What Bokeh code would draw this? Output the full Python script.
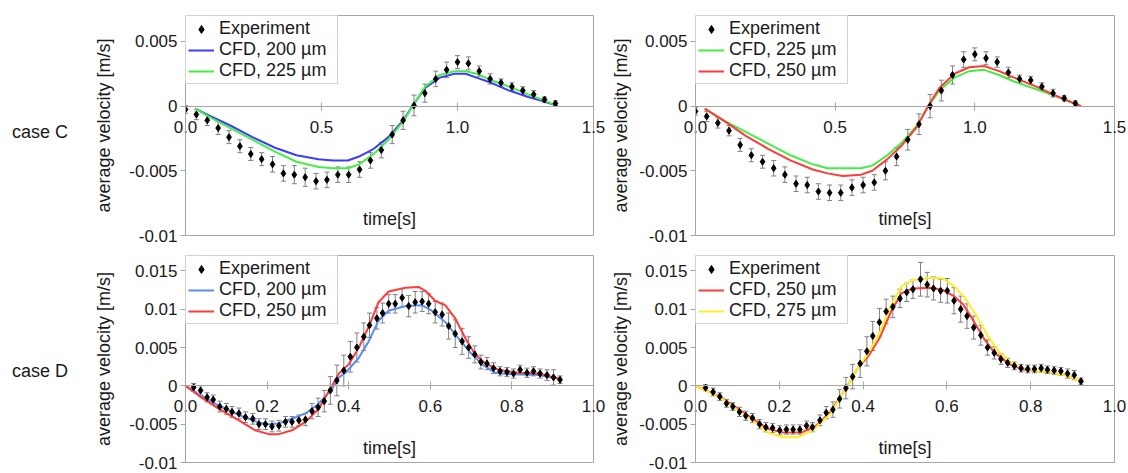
from bokeh.plotting import figure
from bokeh.models import (Range1d, FixedTicker, CustomJSTickFormatter, LinearAxis, Div,
                          Legend, LegendItem, Label, Whisker, ColumnDataSource, TeeHead)
from bokeh.layouts import column, row
from bokeh.embed import file_html
from bokeh.resources import INLINE

FONT = "Liberation Sans"
GRAY = "#a6a6a6"
ERRC = "#808080"
TXT = "#1a1a1a"
BLUE_C = "#3c3cff"
GREEN = "#44ee44"
RED = "#ff3b3b"
BLUE_D = "#5b8cf0"
YELLOW = "#ffee22"

# ---------------- case C, left panel ----------------
cl_t = [0.00, 0.04, 0.08, 0.12, 0.16, 0.20, 0.24, 0.28, 0.32, 0.36, 0.40, 0.44,
        0.48, 0.52, 0.56, 0.60, 0.64, 0.68, 0.72, 0.76, 0.80, 0.84, 0.88, 0.92,
        0.96, 1.00, 1.04, 1.08, 1.12, 1.16, 1.20, 1.24, 1.28, 1.32, 1.36]
cl_exp = [-0.00026, -0.00065, -0.0011, -0.0017, -0.0024, -0.0031, -0.0037, -0.0041,
          -0.0045, -0.0052, -0.0053, -0.0055, -0.0058, -0.0057, -0.0053, -0.0053,
          -0.0049, -0.0042, -0.0034, -0.0022, -0.0011, 0.00005, 0.0010, 0.0021,
          0.0028, 0.0034, 0.0033, 0.0027, 0.0021, 0.0018, 0.0015, 0.0012, 0.0009,
          0.0005, 0.0002]
cl_err = [0.0003, 0.0004, 0.0004, 0.0005, 0.0005, 0.0005, 0.0005, 0.0005, 0.0006,
          0.0006, 0.0007, 0.0007, 0.0006, 0.0006, 0.0006, 0.0006, 0.0006, 0.0006,
          0.0006, 0.0007, 0.0007, 0.0008, 0.0007, 0.0006, 0.0006, 0.0005, 0.0005,
          0.0004, 0.0004, 0.0003, 0.0003, 0.0003, 0.0003, 0.0002, 0.0002]
cl_cfd_t = [0.036, 0.084, 0.165, 0.246, 0.327, 0.408, 0.489, 0.543, 0.597, 0.638,
            0.692, 0.746, 0.800, 0.841, 0.881, 0.935, 0.989, 1.030, 1.070, 1.124,
            1.190, 1.260, 1.310, 1.370]
cl_cfd200 = [-0.0002, -0.0007, -0.0015, -0.0024, -0.0032, -0.0038, -0.0041, -0.0042,
             -0.0042, -0.0039, -0.0033, -0.0024, -0.0011, 0.0002, 0.0014, 0.0022,
             0.0025, 0.0025, 0.0022, 0.0018, 0.0012, 0.0007, 0.0004, 0.0000]
cl_cfd225 = [-0.0002, -0.0008, -0.0017, -0.0026, -0.0035, -0.0043, -0.0047, -0.0048,
             -0.0048, -0.0045, -0.0037, -0.0026, -0.0012, 0.0002, 0.0015, 0.0024,
             0.0027, 0.0027, 0.0025, 0.0020, 0.0015, 0.0009, 0.0005, 0.0000]

# ---------------- case C, right panel ----------------
cr_t = cl_t
cr_exp = [-0.0004, -0.0008, -0.0013, -0.0019, -0.0030, -0.0038, -0.0043, -0.0048,
          -0.0053, -0.0060, -0.0061, -0.0066, -0.0067, -0.0067, -0.0063, -0.0061,
          -0.0059, -0.0050, -0.0039, -0.0026, -0.0014, 0.0000, 0.0012, 0.0024,
          0.0036, 0.0040, 0.0037, 0.0034, 0.0026, 0.0021, 0.0020, 0.0015, 0.0010,
          0.0006, 0.0002]
cr_err = [0.0003, 0.0004, 0.0004, 0.0004, 0.0005, 0.0005, 0.0005, 0.0006, 0.0006,
          0.0006, 0.0006, 0.0006, 0.0006, 0.0006, 0.0006, 0.0006, 0.0006, 0.0007,
          0.0007, 0.0008, 0.0008, 0.0009, 0.0008, 0.0007, 0.0006, 0.0005, 0.0005,
          0.0004, 0.0004, 0.0003, 0.0003, 0.0003, 0.0003, 0.0002, 0.0002]
cr_cfd_t = [0.033, 0.100, 0.180, 0.260, 0.340, 0.420, 0.473, 0.527, 0.593, 0.633,
            0.687, 0.740, 0.793, 0.833, 0.873, 0.927, 0.980, 1.033, 1.087, 1.140,
            1.220, 1.300, 1.380]
cr_cfd225 = [-0.0002, -0.0011, -0.0020, -0.0029, -0.0038, -0.0045, -0.0048, -0.0048,
             -0.0048, -0.0046, -0.0038, -0.0028, -0.0015, 0.0000, 0.0012, 0.0022,
             0.0027, 0.0028, 0.0024, 0.0019, 0.0013, 0.0007, 0.0000]
cr_cfd250 = [-0.0002, -0.0011, -0.0023, -0.0033, -0.0042, -0.0049, -0.0052, -0.0054,
             -0.0053, -0.0050, -0.0041, -0.0030, -0.0016, 0.0000, 0.0014, 0.0025,
             0.0030, 0.0031, 0.0027, 0.0022, 0.0015, 0.0007, 0.0000]

# ---------------- case D, left panel ----------------
dl_t = [0.020, 0.037, 0.053, 0.068, 0.084, 0.100, 0.114, 0.131, 0.147, 0.165,
        0.180, 0.196, 0.212, 0.229, 0.245, 0.261, 0.278, 0.294, 0.310, 0.325,
        0.340, 0.355, 0.371, 0.388, 0.404, 0.420, 0.437, 0.451, 0.469, 0.483,
        0.498, 0.514, 0.531, 0.547, 0.563, 0.580, 0.596, 0.612, 0.629, 0.645,
        0.661, 0.678, 0.694, 0.709, 0.724, 0.739, 0.755, 0.771, 0.788, 0.804,
        0.820, 0.837, 0.853, 0.869, 0.886, 0.902, 0.918]
dl_exp = [-0.0002, -0.0006, -0.0015, -0.0018, -0.0027, -0.0030, -0.0034, -0.0036,
          -0.0041, -0.0043, -0.0050, -0.0050, -0.0053, -0.0052, -0.0047, -0.0047,
          -0.0045, -0.0044, -0.0033, -0.0028, -0.0020, -0.0006, 0.0007, 0.0020,
          0.0038, 0.0050, 0.0064, 0.0079, 0.0088, 0.0095, 0.0107, 0.0107, 0.0115,
          0.0104, 0.0109, 0.0110, 0.0107, 0.0096, 0.0093, 0.0078, 0.0068, 0.0058,
          0.0050, 0.0041, 0.0031, 0.0029, 0.0023, 0.0019, 0.0018, 0.0016, 0.0021,
          0.0017, 0.0019, 0.0016, 0.0014, 0.0011, 0.0008]
dl_err = [0.0005, 0.0006, 0.0006, 0.0006, 0.0007, 0.0007, 0.0007, 0.0007, 0.0007,
          0.0007, 0.0007, 0.0007, 0.0007, 0.0007, 0.0007, 0.0007, 0.0007, 0.0008,
          0.0010, 0.0012, 0.0014, 0.0018, 0.0020, 0.0020, 0.0020, 0.0019, 0.0018,
          0.0016, 0.0014, 0.0013, 0.0012, 0.0012, 0.0012, 0.0014, 0.0014, 0.0013,
          0.0013, 0.0014, 0.0015, 0.0017, 0.0018, 0.0017, 0.0014, 0.0011, 0.0009,
          0.0008, 0.0007, 0.0006, 0.0006, 0.0006, 0.0006, 0.0006, 0.0006, 0.0006,
          0.0007, 0.0010, 0.0005]
dl_c200_t = [0.000, 0.033, 0.082, 0.131, 0.180, 0.204, 0.229, 0.261, 0.294, 0.327,
             0.359, 0.376, 0.392, 0.424, 0.449, 0.473, 0.498, 0.539, 0.580, 0.604,
             0.637, 0.669, 0.702, 0.727, 0.759, 0.800, 0.865, 0.918]
dl_c200 = [0.0000, -0.0011, -0.0026, -0.0038, -0.0048, -0.0050, -0.0049, -0.0043,
           -0.0036, -0.0023, -0.0004, 0.0011, 0.0017, 0.0036, 0.0058, 0.0085,
           0.0098, 0.0104, 0.0105, 0.0098, 0.0083, 0.0062, 0.0041, 0.0028, 0.0017,
           0.0015, 0.0014, 0.0009]
dl_c250_t = [0.000, 0.033, 0.082, 0.131, 0.171, 0.204, 0.229, 0.261, 0.294, 0.327,
             0.359, 0.376, 0.400, 0.424, 0.449, 0.473, 0.498, 0.539, 0.571, 0.588,
             0.612, 0.637, 0.661, 0.686, 0.710, 0.735, 0.767, 0.816, 0.865, 0.918]
dl_c250 = [0.0000, -0.0013, -0.0030, -0.0045, -0.0058, -0.0063, -0.0063, -0.0058,
           -0.0047, -0.0030, 0.0000, 0.0016, 0.0028, 0.0049, 0.0077, 0.0109, 0.0123,
           0.0128, 0.0129, 0.0124, 0.0111, 0.0105, 0.0088, 0.0062, 0.0041, 0.0029,
           0.0021, 0.0017, 0.0016, 0.0009]

# ---------------- case D, right panel ----------------
dr_t = [0.024, 0.042, 0.058, 0.074, 0.089, 0.105, 0.120, 0.136, 0.153, 0.168,
        0.184, 0.201, 0.217, 0.233, 0.249, 0.265, 0.279, 0.297, 0.312, 0.328,
        0.344, 0.359, 0.375, 0.393, 0.409, 0.423, 0.439, 0.455, 0.471, 0.488,
        0.504, 0.519, 0.537, 0.553, 0.568, 0.585, 0.601, 0.617, 0.633, 0.648,
        0.664, 0.681, 0.697, 0.713, 0.729, 0.745, 0.761, 0.777, 0.793, 0.809,
        0.825, 0.840, 0.856, 0.872, 0.888, 0.904, 0.920]
dr_exp = [-0.00025, -0.0008, -0.0014, -0.0023, -0.0027, -0.0034, -0.0039, -0.0042,
          -0.0050, -0.0054, -0.0055, -0.0058, -0.0057, -0.0057, -0.0057, -0.0052,
          -0.0054, -0.0045, -0.0035, -0.0031, -0.0017, -0.0003, 0.0012, 0.0029,
          0.0045, 0.0065, 0.0083, 0.0097, 0.0103, 0.0114, 0.0122, 0.0126, 0.0139,
          0.0132, 0.0127, 0.0124, 0.0124, 0.0111, 0.0100, 0.0091, 0.0076, 0.0066,
          0.0050, 0.0043, 0.0035, 0.0030, 0.0026, 0.0023, 0.0022, 0.0022, 0.0023,
          0.0021, 0.0020, 0.0019, 0.0016, 0.0014, 0.0006]
dr_err = [0.0004, 0.0005, 0.0005, 0.0005, 0.0005, 0.0006, 0.0006, 0.0006, 0.0006,
          0.0006, 0.0006, 0.0006, 0.0006, 0.0006, 0.0006, 0.0006, 0.0006, 0.0007,
          0.0008, 0.0010, 0.0012, 0.0014, 0.0016, 0.0018, 0.0019, 0.0019, 0.0018,
          0.0016, 0.0014, 0.0012, 0.0012, 0.0012, 0.0022, 0.0016, 0.0015, 0.0015,
          0.0016, 0.0017, 0.0017, 0.0016, 0.0015, 0.0013, 0.0010, 0.0008, 0.0007,
          0.0006, 0.0005, 0.0005, 0.0005, 0.0005, 0.0005, 0.0005, 0.0005, 0.0005,
          0.0006, 0.0006, 0.0004]
dr_c250_t = [0.000, 0.058, 0.120, 0.173, 0.209, 0.253, 0.288, 0.324, 0.359, 0.386,
             0.413, 0.439, 0.466, 0.492, 0.519, 0.563, 0.590, 0.617, 0.639, 0.661,
             0.688, 0.714, 0.750, 0.785, 0.838, 0.883, 0.920]
dr_c250 = [0.0000, -0.0014, -0.0037, -0.0056, -0.0061, -0.0061, -0.0052, -0.0033,
           -0.0003, 0.0022, 0.0039, 0.0062, 0.0096, 0.0121, 0.0127, 0.0128, 0.0125,
           0.0117, 0.0106, 0.0087, 0.0062, 0.0043, 0.0028, 0.0021, 0.0018, 0.0014,
           0.0006]
dr_c275_t = [0.000, 0.058, 0.120, 0.173, 0.209, 0.244, 0.280, 0.324, 0.359, 0.386,
             0.413, 0.439, 0.466, 0.492, 0.519, 0.563, 0.590, 0.617, 0.643, 0.670,
             0.697, 0.723, 0.759, 0.794, 0.838, 0.883, 0.920]
dr_c275 = [0.0000, -0.0015, -0.0039, -0.0061, -0.0067, -0.0067, -0.0058, -0.0035,
           -0.0003, 0.0022, 0.0043, 0.0068, 0.0104, 0.0130, 0.0138, 0.0141, 0.0140,
           0.0130, 0.0115, 0.0092, 0.0066, 0.0045, 0.0028, 0.0021, 0.0018, 0.0014,
           0.0006]

top_x_ticks = [0.0, 0.5, 1.0, 1.5]
bot_x_ticks = [0.0, 0.2, 0.4, 0.6, 0.8, 1.0]
top_y_ticks = [-0.01, -0.005, 0.0, 0.005]
bot_y_ticks = [-0.01, -0.005, 0.0, 0.005, 0.01, 0.015]
case_labels = ["case C", "case D"]

YFMT = "return String(Number(tick.toFixed(4)));"
XFMT = "return tick.toFixed(1);"


def panel(width, height, mb, xr, yr, xticks, yticks, exp_t, exp_v, exp_e,
          lines, time_y, ylab_standoff):
    p = figure(width=width, height=height, output_backend="svg", toolbar_location=None,
               x_range=Range1d(*xr), y_range=Range1d(*yr),
               min_border_left=mb[0], min_border_right=mb[1],
               min_border_top=mb[2], min_border_bottom=mb[3])
    p.background_fill_color = "white"
    p.border_fill_color = "white"
    p.outline_line_color = GRAY
    p.xgrid.visible = False
    p.ygrid.visible = False

    ya = p.yaxis[0]
    ya.ticker = FixedTicker(ticks=yticks)
    ya.formatter = CustomJSTickFormatter(code=YFMT)
    ya.minor_tick_line_color = None
    ya.major_tick_in = 0
    ya.major_tick_out = 5
    ya.major_tick_line_color = GRAY
    ya.axis_line_color = GRAY
    ya.major_label_standoff = 3
    ya.major_label_text_font = FONT
    ya.major_label_text_font_size = "17px"
    ya.major_label_text_color = TXT
    ya.axis_label = "average velocity [m/s]"
    ya.axis_label_text_font = FONT
    ya.axis_label_text_font_size = "18px"
    ya.axis_label_text_font_style = "normal"
    ya.axis_label_text_color = TXT
    ya.axis_label_standoff = ylab_standoff

    # frame geometry -> distance of the zero line above the frame bottom
    frame_h = height - mb[2] - mb[3]
    zero_up = frame_h * (0 - yr[0]) / (yr[1] - yr[0])

    # tick labels: ordinary bottom axis, labels pulled up to sit under the zero line
    xa = p.xaxis[0]
    xa.ticker = FixedTicker(ticks=xticks)
    xa.formatter = CustomJSTickFormatter(code=XFMT)
    xa.minor_tick_line_color = None
    xa.major_tick_line_color = None
    xa.major_tick_in = 0
    xa.major_tick_out = 0
    xa.axis_line_color = None
    xa.major_label_standoff = -int(round(zero_up - 14))
    xa.major_label_text_font = FONT
    xa.major_label_text_font_size = "17px"
    xa.major_label_text_color = TXT

    # zero line with crossing ticks
    za = LinearAxis(fixed_location=0, ticker=FixedTicker(ticks=xticks),
                    formatter=CustomJSTickFormatter(code="return '';"),
                    axis_line_color=GRAY, major_tick_line_color=GRAY,
                    minor_tick_line_color=None, major_tick_in=4, major_tick_out=4,
                    major_label_text_font_size="1px")
    p.add_layout(za, "below")

    line_rs = []
    for (lt, lv, col, lab) in lines:
        r = p.line(lt, lv, line_color=col, line_width=2)
        line_rs.append((lab, r))

    src = ColumnDataSource(dict(t=exp_t, v=exp_v,
                                lo=[a - b for a, b in zip(exp_v, exp_e)],
                                hi=[a + b for a, b in zip(exp_v, exp_e)]))
    wh = Whisker(source=src, base="t", lower="lo", upper="hi", dimension="height",
                 line_color=ERRC, line_width=1,
                 upper_head=TeeHead(size=5, line_color=ERRC, line_width=1),
                 lower_head=TeeHead(size=5, line_color=ERRC, line_width=1))
    p.add_layout(wh)
    pts = p.scatter("t", "v", source=src, marker="diamond", size=7,
                    fill_color="black", line_color="black")

    items = [LegendItem(label="Experiment", renderers=[pts])]
    for lab, r in line_rs:
        items.append(LegendItem(label=lab, renderers=[r]))
    leg = Legend(items=items, location="top_left", margin=0, padding=2, spacing=0,
                 label_text_font=FONT, label_text_font_size="18px",
                 label_text_color=TXT, glyph_width=26, glyph_height=20,
                 label_height=20, label_width=116, label_standoff=5,
                 border_line_color=GRAY, background_fill_color="white",
                 background_fill_alpha=1.0)
    p.add_layout(leg)

    p.add_layout(Label(x=(xr[0] + xr[1]) / 2, y=time_y, text="time[s]",
                       text_align="center", text_baseline="middle",
                       text_font=FONT, text_font_size="18px", text_color=TXT))
    return p


def case_div(text, height, top):
    html = ('<div style="position:relative; top:%dpx; left:12px; white-space:nowrap; '
            'font-family:\'Liberation Sans\'; font-size:18px; line-height:21px; '
            'color:%s">%s</div>' % (top, TXT, text))
    return Div(text=html, width=70, height=height, margin=0)


TOP_H, BOT_H = 245, 228
p1 = panel(536, TOP_H, (115, 13, 15, 10), (0, 1.5), (-0.01, 0.007), top_x_ticks, top_y_ticks,
           cl_t, cl_exp, cl_err,
           [(cl_cfd_t, cl_cfd200, BLUE_C, "CFD, 200 µm"),
            (cl_cfd_t, cl_cfd225, GREEN, "CFD, 225 µm")], -0.0087, 12)
p2 = panel(520, TOP_H, (89, 12, 15, 10), (0, 1.5), (-0.01, 0.007), top_x_ticks, top_y_ticks,
           cr_t, cr_exp, cr_err,
           [(cr_cfd_t, cr_cfd225, GREEN, "CFD, 225 µm"),
            (cr_cfd_t, cr_cfd250, RED, "CFD, 250 µm")], -0.0087, 5)
p3 = panel(536, BOT_H, (115, 13, 10, 11), (0, 1.0), (-0.01, 0.017), bot_x_ticks, bot_y_ticks,
           dl_t, dl_exp, dl_err,
           [(dl_c200_t, dl_c200, BLUE_D, "CFD, 200 µm"),
            (dl_c250_t, dl_c250, RED, "CFD, 250 µm")], -0.0081, 12)
p4 = panel(520, BOT_H, (89, 12, 10, 11), (0, 1.0), (-0.01, 0.017), bot_x_ticks, bot_y_ticks,
           dr_t, dr_exp, dr_err,
           [(dr_c250_t, dr_c250, RED, "CFD, 250 µm"),
            (dr_c275_t, dr_c275, YELLOW, "CFD, 275 µm")], -0.0081, 5)

d1 = case_div(case_labels[0], TOP_H, 122)
d2 = case_div(case_labels[1], BOT_H, 116)

layout = column(row(d1, p1, p2, spacing=0), row(d2, p3, p4, spacing=0), spacing=0)
open("out.html", "w").write(file_html(layout, INLINE))
